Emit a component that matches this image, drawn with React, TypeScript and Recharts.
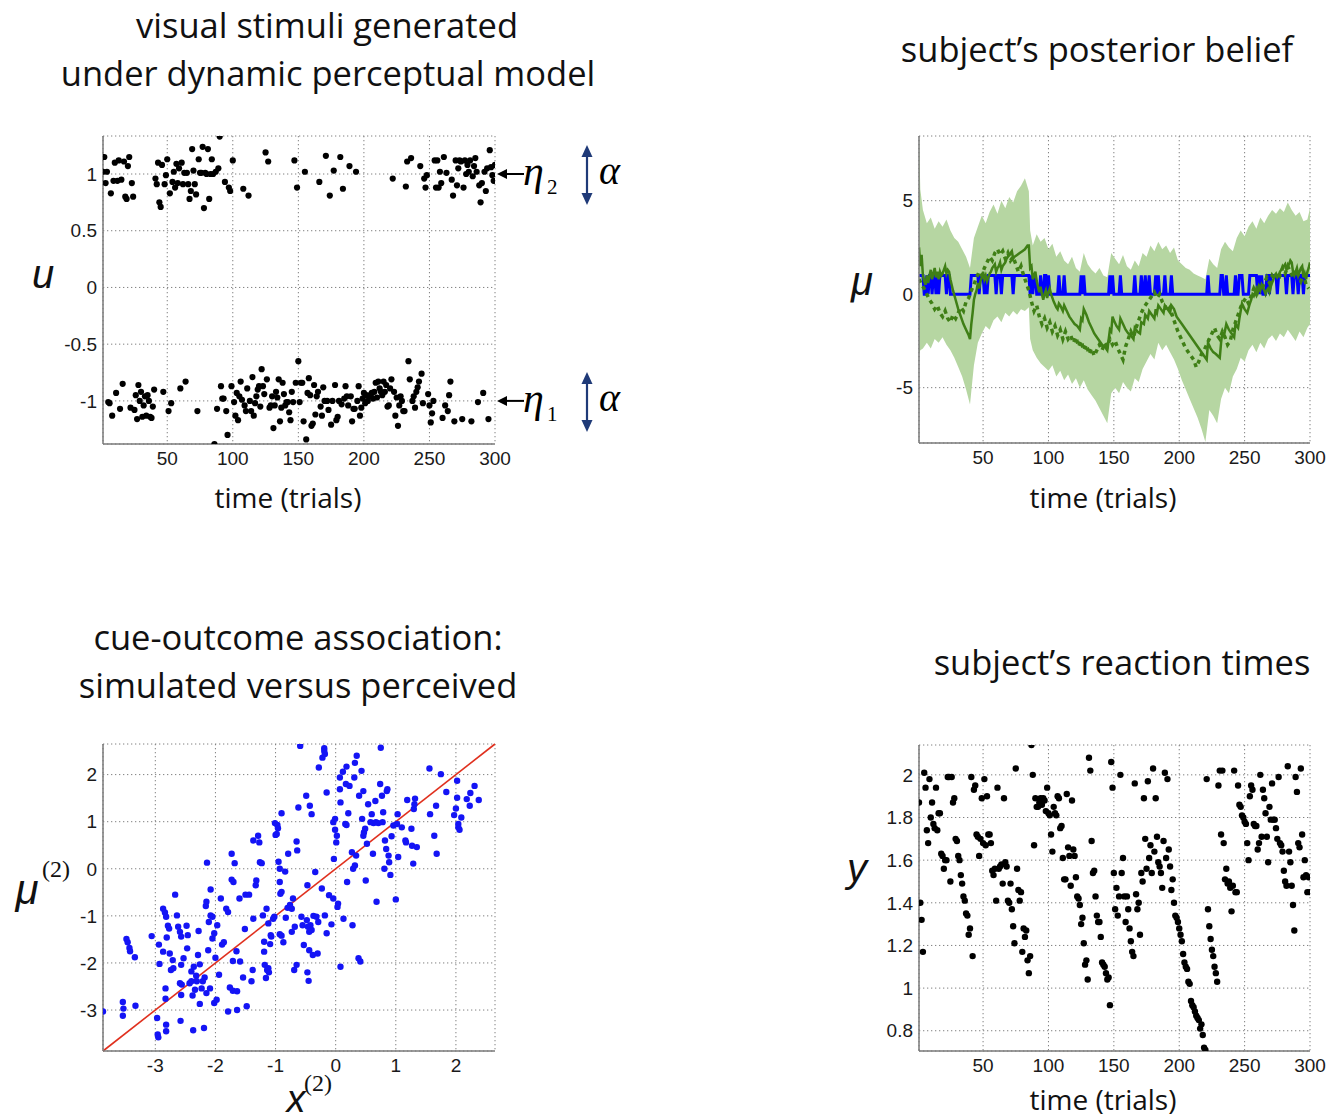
import React from 'react';
import {
  ScatterChart, Scatter, ComposedChart, Line, Area, XAxis, YAxis,
  CartesianGrid, ReferenceDot, ReferenceLine,
} from 'recharts';

// ---------------- data ----------------
const trialTicks = [50, 100, 150, 200, 250, 300];
const trialDomain: [number, number] = [1, 300];

// panel 1: stimuli u per trial (1..300)
const stimulusU = [
  1.02, 1.15, 0.92, 1.02, -1.01, -1.02, 0.83, -1.13, 0.94, 1.10,
  -0.93, 0.94, 1.12, -1.07, 0.95, -0.85, 1.11, 0.80, 0.78, 1.07,
  1.15, -1.06, 0.92, 0.80, -1.08, -0.95, -1.16, -0.86, -1.00, -0.92,
  -1.14, -1.04, -0.96, -1.13, -0.95, -1.00, -1.14, -1.15, -1.05, -0.90,
  0.96, 0.91, 1.10, 0.75, 0.71, 1.08, -0.92, 0.91, 0.99, 1.13,
  -1.09, 0.83, -1.02, 0.93, 1.02, 0.88, 1.09, 0.92, 1.05, -0.89,
  1.10, 0.91, 1.01, -0.83, 1.01, 0.91, 0.78, 0.85, 1.22, 1.03,
  0.91, 0.82, -1.09, 1.13, 1.01, 1.01, 1.24, 0.70, 1.01, 1.00,
  1.22, 0.78, 1.00, 1.13, 1.00, -1.38, 1.02, -1.07, 1.05, 1.33,
  -0.87, -0.98, -0.98, 0.93, -1.09, -1.30, 0.88, 0.85, -0.87, 1.12,
  -1.01, -1.13, -0.93, -1.17, -0.96, -0.83, -0.99, 0.87, -1.04, -1.09,
  -0.89, 0.81, -1.00, -1.09, -0.79, -1.13, -1.02, -0.96, -0.90, -0.87,
  -1.05, -0.72, -0.87, -0.94, 1.19, -0.81, 1.11, -1.06, -1.04, -0.96,
  -1.24, -1.04, -0.92, -0.97, -0.81, -1.18, -1.06, -0.84, -0.94, -1.04,
  -1.01, -1.01, -1.10, -1.17, -0.92, -1.01, 1.12, -0.84, 0.88, -0.65,
  -1.01, -0.84, -0.84, -1.18, 1.02, -1.34, -0.93, -0.80, -0.95, -1.22,
  -1.20, -0.86, -1.12, -0.96, -0.92, 0.93, -1.05, -1.13, -0.88, -1.00,
  1.16, -1.00, -1.08, 0.81, -1.21, -1.00, 1.03, -0.86, -1.17, -1.14,
  -1.00, 1.15, -1.03, 0.87, -0.98, -0.87, -0.96, -1.04, 1.07, -0.96,
  -1.18, -1.07, -1.07, 1.02, -1.00, -0.87, -1.13, -1.06, -0.98, -0.93,
  -1.02, -0.95, -1.00, -0.96, -0.95, -0.93, -0.98, -0.92, -0.84, -0.97,
  -0.83, -0.89, -0.92, -0.95, -0.83, -0.92, -0.86, -1.05, -1.04, -0.89,
  -0.81, 0.96, -0.92, -1.13, -0.97, -1.22, -1.04, -0.96, -1.00, -1.09,
  -1.09, 0.89, 1.11, -0.65, -0.81, 1.14, -1.00, -0.96, -1.06, -0.92,
  -0.88, -0.83, 1.07, -0.76, -1.02, 0.96, 0.88, 0.99, -0.94, -1.04,
  -1.19, -1.11, -1.00, 1.12, 0.88, 1.12, 0.88, 1.02, 0.92, -1.15,
  1.15, -1.04, 1.01, -1.09, -0.95, -0.83, 0.95, 0.81, -1.18, 1.12,
  0.90, 1.05, 1.12, 1.11, -1.16, 0.88, 1.12, 1.00, 1.08, 1.02,
  1.12, -1.18, 0.98, 1.07, 1.14, 1.02, -1.01, 0.90, 0.75, 0.92,
  -0.93, 1.02, 0.85, 1.05, -1.16, 1.21, 1.06, 0.99, 0.94, 1.08,
];
const uTicks = [-1, -0.5, 0, 0.5, 1];
const uDomain: [number, number] = [-1.38, 1.335];

// panel 2: posterior belief
const muTicks = [-5, 0, 5];
const muDomain: [number, number] = [-7.96, 8.46];
// [trial, lower, upper]
const beliefBand: [number, number, number][] = [
  [1, -3.2, 8.46], [2, -3.0, 5.6], [4, -2.9, 4.5], [7, -2.6, 3.8], [10, -2.9, 4.1],
  [13, -2.4, 3.5], [16, -2.6, 3.9], [19, -2.3, 3.6], [22, -2.7, 4.0], [25, -3.0, 3.4],
  [28, -3.4, 3.0], [31, -3.9, 2.8], [34, -4.4, 2.4], [37, -5.1, 2.0], [40, -5.9, 1.4],
  [43, -3.8, 3.0], [46, -2.6, 3.6], [49, -2.1, 4.2], [52, -1.7, 3.8], [55, -1.9, 4.4],
  [58, -1.4, 4.8], [61, -1.2, 4.3], [64, -1.5, 5.0], [67, -1.0, 4.6], [70, -1.2, 5.2],
  [73, -0.9, 4.9], [76, -1.1, 5.5], [79, -0.8, 5.8], [82, -0.9, 6.2], [85, -0.7, 5.5],
  [86, -2.4, 3.4], [88, -3.0, 2.6], [91, -3.4, 3.2], [94, -3.7, 2.8], [97, -3.9, 3.0],
  [100, -4.1, 2.4], [103, -3.8, 2.7], [106, -4.4, 2.0], [109, -4.1, 2.3], [112, -4.6, 1.8],
  [115, -4.3, 1.6], [118, -4.8, 2.0], [121, -4.5, 1.4], [124, -5.0, 1.2], [127, -4.6, 2.2],
  [130, -5.1, 1.6], [133, -5.4, 1.3], [136, -5.7, 1.1], [139, -6.1, 1.4], [142, -6.5, 1.0],
  [145, -6.9, 0.9], [148, -5.3, 2.2], [151, -5.0, 1.9], [154, -5.3, 1.6], [157, -4.7, 2.1],
  [160, -5.0, 1.5], [163, -5.2, 1.3], [166, -4.5, 1.8], [169, -4.7, 1.5], [172, -4.0, 2.2],
  [175, -3.6, 2.0], [178, -3.2, 2.6], [181, -3.5, 2.3], [184, -2.6, 2.8], [187, -3.0, 2.4],
  [190, -2.7, 2.6], [193, -3.1, 2.2], [196, -3.5, 2.5], [199, -4.0, 1.8], [202, -4.6, 1.6],
  [205, -5.1, 1.4], [208, -5.6, 1.3], [211, -6.1, 1.1], [214, -6.6, 1.0], [217, -7.2, 0.9],
  [220, -7.9, 0.8], [223, -6.2, 1.9], [226, -6.5, 1.6], [229, -6.9, 1.4], [232, -5.6, 2.4],
  [235, -5.0, 2.8], [238, -5.3, 2.5], [241, -4.4, 2.3], [244, -4.0, 3.0], [247, -3.4, 3.4],
  [250, -3.6, 3.1], [253, -3.0, 3.6], [256, -2.7, 3.9], [259, -3.1, 3.5], [262, -2.6, 4.1],
  [265, -2.9, 3.8], [268, -2.4, 4.2], [271, -2.2, 4.5], [274, -2.5, 4.3], [277, -2.1, 4.6],
  [280, -2.3, 4.4], [283, -1.9, 4.9], [286, -2.2, 4.5], [289, -2.5, 4.2], [292, -2.0, 4.4],
  [295, -2.3, 3.9], [298, -1.8, 4.0], [300, -1.6, 4.6],
];
// [trial, posterior mean]
const beliefMean: [number, number][] = [
  [1, 2.5], [2, 1.5], [3, 2.1], [4, 1.0], [5, 0.7], [6, 0.5], [7, 1.0], [8, 0.6], [9, 1.0], [10, 1.3],
  [11, 0.8], [12, 1.1], [13, 1.4], [14, 0.9], [15, 1.2], [16, 0.8], [17, 1.2], [18, 1.0], [19, 1.1], [20, 1.3],
  [21, 1.5], [22, 1.1], [23, 1.3], [24, 1.2], [25, 0.8], [27, 0.2], [29, -0.3], [31, -0.8], [33, -1.2], [35, -1.6],
  [37, -1.9], [39, -2.2], [40, -2.4], [41, -1.6], [42, -1.0], [43, -0.3], [44, 0.0], [45, 0.2], [46, 0.6], [47, 0.3],
  [48, 0.7], [49, 0.9], [50, 1.2], [51, 0.8], [52, 1.0], [53, 0.7], [54, 0.9], [55, 1.1], [56, 1.2], [57, 1.4],
  [58, 1.5], [59, 1.6], [60, 1.2], [61, 1.4], [62, 1.5], [63, 1.7], [64, 1.3], [65, 1.5], [66, 1.6], [67, 1.7],
  [68, 1.9], [69, 2.0], [70, 2.1], [71, 2.2], [72, 2.3], [73, 1.9], [74, 2.0], [76, 2.1], [78, 2.2], [80, 2.3],
  [82, 2.4], [84, 2.6], [85, 2.6], [86, 1.4], [87, 1.5], [88, 0.8], [89, 1.0], [90, 1.2], [91, 0.7], [92, 0.4],
  [93, 0.1], [94, 0.4], [95, 0.0], [96, -0.3], [97, 0.0], [98, 0.2], [99, -0.2], [100, 0.1], [101, 0.3], [102, 0.0],
  [104, -0.4], [106, -0.7], [107, -0.8], [108, -0.5], [109, -0.6], [111, -0.9], [112, -0.6], [114, -0.9], [116, -1.2], [118, -1.4],
  [120, -1.6], [122, -1.7], [124, -1.9], [125, -1.3], [126, -1.4], [127, -0.8], [129, -1.1], [131, -1.5], [133, -1.8], [135, -2.1],
  [137, -2.3], [139, -2.5], [141, -2.7], [143, -2.8], [145, -3.0], [147, -1.9], [148, -2.0], [149, -1.2], [150, -1.4], [152, -1.7],
  [154, -1.9], [155, -1.3], [157, -1.6], [159, -1.9], [161, -2.1], [163, -2.2], [165, -2.4], [166, -1.8], [168, -2.0], [170, -2.1],
  [171, -1.5], [173, -1.6], [174, -1.1], [176, -1.3], [177, -0.9], [179, -1.1], [181, -1.3], [182, -0.8], [183, -1.0], [184, -0.6],
  [186, -0.8], [188, -1.0], [189, -0.6], [191, -0.8], [193, -1.0], [194, -0.6], [196, -0.8], [198, -1.2], [202, -1.6], [206, -2.0],
  [210, -2.4], [214, -2.8], [218, -3.2], [221, -3.5], [222, -2.6], [224, -2.9], [226, -3.1], [228, -3.2], [231, -3.4], [232, -2.6],
  [233, -2.0], [234, -2.3], [236, -1.6], [238, -1.9], [240, -2.1], [242, -2.3], [243, -1.6], [245, -1.8], [246, -1.3], [247, -0.9],
  [248, -0.5], [250, -0.8], [252, -1.0], [254, -0.5], [255, -0.3], [256, 0.0], [257, -0.1], [258, 0.1], [259, 0.3], [260, 0.1],
  [261, 0.4], [262, 0.2], [263, 0.5], [265, 0.2], [266, 0.0], [267, 0.2], [268, 0.3], [269, 0.1], [270, 0.4], [271, 0.6],
  [272, 0.8], [273, 1.0], [274, 1.1], [275, 0.9], [276, 1.0], [277, 1.2], [278, 1.3], [279, 1.4], [280, 1.5], [281, 1.6],
  [282, 1.3], [283, 1.5], [284, 1.6], [285, 1.8], [286, 1.7], [287, 1.2], [288, 1.0], [289, 1.2], [290, 1.4], [291, 1.0],
  [292, 1.2], [293, 1.4], [294, 1.5], [295, 0.9], [296, 1.1], [297, 0.8], [298, 1.2], [299, 1.4], [300, 1.7],
];
// [trial, simulated (true) x2]
const trueX2: [number, number][] = [
  [1, 0.8], [3, 0.5], [5, 0.3], [7, 0.0], [9, -0.3], [11, -0.5], [13, -0.8], [15, -0.6], [17, -1.0], [19, -1.2],
  [21, -0.9], [23, -1.3], [25, -1.5], [27, -1.1], [29, -1.3], [31, -1.0], [33, -0.7], [35, -0.9], [37, -0.4], [39, -0.2],
  [41, 0.2], [43, 0.5], [45, 0.9], [47, 1.2], [49, 1.0], [51, 1.4], [53, 1.7], [55, 2.0], [57, 1.8], [59, 2.2],
  [61, 2.4], [63, 2.1], [65, 2.3], [67, 1.9], [69, 2.2], [71, 1.8], [73, 2.0], [75, 1.6], [77, 1.2], [79, 1.5],
  [81, 1.0], [83, 0.6], [85, 0.2], [87, -0.4], [89, -0.9], [91, -0.6], [93, -1.2], [95, -1.6], [97, -1.3], [99, -1.8],
  [101, -1.5], [103, -2.0], [105, -1.7], [107, -2.2], [109, -1.9], [111, -2.4], [113, -2.0], [115, -2.4], [117, -2.2], [119, -2.6],
  [121, -2.3], [123, -2.8], [125, -2.5], [127, -3.0], [129, -2.7], [131, -3.2], [133, -2.9], [135, -3.3], [137, -3.0], [139, -2.7],
  [141, -3.0], [143, -2.6], [145, -2.8], [147, -2.4], [149, -2.7], [151, -2.5], [153, -2.9], [155, -3.2], [157, -3.5], [159, -2.8],
  [161, -2.4], [163, -2.0], [165, -2.3], [167, -1.8], [169, -1.4], [171, -1.0], [173, -0.7], [175, -0.5], [177, -0.3], [179, -0.1],
  [181, 0.1], [183, -0.2], [185, 0.0], [187, -0.4], [189, -0.6], [191, -0.9], [193, -0.7], [195, -1.2], [197, -1.6], [199, -2.0],
  [201, -2.3], [203, -2.6], [205, -2.9], [207, -3.1], [209, -3.3], [211, -3.5], [213, -3.9], [215, -3.6], [217, -3.2], [219, -3.0],
  [221, -2.7], [223, -2.4], [225, -2.1], [227, -1.8], [229, -2.2], [231, -2.4], [233, -2.0], [235, -2.3], [237, -2.7], [239, -2.5],
  [241, -1.9], [243, -1.5], [245, -1.1], [247, -0.7], [249, -0.4], [251, -0.2], [253, -0.5], [255, -0.1], [257, 0.3], [259, 0.0],
  [261, 0.4], [263, 0.2], [265, 0.6], [267, 0.9], [269, 0.6], [271, 1.0], [273, 0.8], [275, 1.2], [277, 1.0], [279, 1.4],
  [281, 1.1], [283, 1.5], [285, 1.2], [287, 0.9], [289, 1.3], [291, 1.0], [293, 0.7], [295, 1.1], [297, 0.5], [299, 0.3],
];

// panel 3: [simulated x2, perceived mu2]
const assocTicks = [-3, -2, -1, 0, 1, 2];
const assocDomain: [number, number] = [-3.87, 2.65];
const assocPoints: [number, number][] = [
  [-3.87, -3.03], [-3.54, -2.83], [-3.53, -2.97], [-3.54, -3.12], [-3.33, -2.91], [-3.48, -1.49], [-3.46, -1.56], [-3.43, -1.68],
  [-3.42, -1.75], [-3.34, -1.88], [-3.06, -1.43], [-2.97, -3.17], [-2.96, -3.52], [-2.95, -3.58], [-2.94, -1.61], [-2.93, -2.02],
  [-2.87, -0.85], [-2.84, -0.93], [-2.82, -1.02], [-2.83, -2.54], [-2.83, -2.76], [-2.87, -1.76], [-2.82, -3.31], [-2.82, -3.45],
  [-2.79, -1.21], [-2.77, -1.27], [-2.81, -1.46], [-2.76, -1.80], [-2.74, -2.15], [-2.71, -1.94], [-2.70, -2.11], [-2.67, -0.55],
  [-2.64, -0.99], [-2.62, -1.23], [-2.59, -1.34], [-2.57, -1.44], [-2.59, -2.43], [-2.56, -2.46], [-2.58, -3.23], [-2.57, -2.04],
  [-2.57, -2.68], [-2.53, -1.90], [-2.48, -1.21], [-2.47, -1.69], [-2.46, -1.41], [-2.43, -2.43], [-2.40, -2.18], [-2.40, -2.39],
  [-2.38, -2.69], [-2.37, -3.43], [-2.36, -2.08], [-2.34, -2.57], [-2.32, -2.27], [-2.31, -2.39], [-2.29, -1.83], [-2.28, -1.32],
  [-2.26, -2.87], [-2.26, -2.03], [-2.23, -2.54], [-2.21, -2.39], [-2.19, -3.38], [-2.18, -2.31], [-2.16, -0.79], [-2.15, -0.70],
  [-2.15, -2.64], [-2.14, 0.13], [-2.12, -1.73], [-2.11, -1.13], [-2.09, -2.54], [-2.08, -0.44], [-2.08, -0.99], [-2.05, -1.02],
  [-2.05, -1.48], [-2.02, -1.37], [-2.02, -2.85], [-1.98, -2.78], [-2.00, -1.89], [-1.97, -1.20], [-1.94, -2.25], [-1.91, -0.63],
  [-1.89, -1.61], [-1.86, -1.56], [-1.82, -0.85], [-1.79, -0.92], [-1.79, -3.03], [-1.76, -2.52], [-1.73, 0.32], [-1.73, -0.23],
  [-1.71, -1.96], [-1.71, -2.59], [-1.70, -0.28], [-1.68, 0.12], [-1.65, -1.75], [-1.64, -2.60], [-1.64, -3.00], [-1.60, -0.63],
  [-1.59, -1.97], [-1.54, -2.31], [-1.51, -1.28], [-1.50, -0.55], [-1.48, -2.92], [-1.44, -0.55], [-1.40, -2.39], [-1.38, -2.15],
  [-1.37, 0.60], [-1.37, -1.06], [-1.33, -0.35], [-1.32, -0.25], [-1.29, 0.70], [-1.27, 0.56], [-1.26, 0.14], [-1.23, 0.12],
  [-1.21, -0.99], [-1.19, -1.55], [-1.19, -1.76], [-1.18, -2.04], [-1.16, -2.32], [-1.15, -0.85], [-1.14, -2.15], [-1.12, -2.11],
  [-1.12, -1.16], [-1.11, -2.20], [-1.09, -1.60], [-1.08, -1.41], [-1.07, -1.44], [-1.04, -1.06], [-1.02, -1.02], [-1.01, 0.97],
  [-1.00, 0.72], [-0.98, 0.74], [-0.97, 0.93], [-0.96, 0.86], [-0.95, 0.15], [-0.93, 0.00], [-0.93, -1.39], [-0.90, -1.42],
  [-0.93, -0.28], [-0.92, -0.53], [-0.90, -0.49], [-0.90, 1.18], [-0.87, -1.56], [-0.84, -0.06], [-0.83, -1.04], [-0.80, -0.83],
  [-0.79, 0.32], [-0.76, -0.77], [-0.73, -0.85], [-0.73, -1.34], [-0.71, -0.63], [-0.69, -2.15], [-0.68, -1.23], [-0.65, 0.58],
  [-0.65, -2.04], [-0.64, 0.39], [-0.62, 1.30], [-0.47, -2.20], [-0.45, -2.38], [-0.59, 2.61], [-0.57, -1.02], [-0.55, -1.20],
  [-0.53, -1.62], [-0.49, 1.55], [-0.48, -1.09], [-0.47, -0.35], [-0.46, -1.23], [-0.44, -1.34], [-0.44, -1.73], [-0.43, 1.34],
  [-0.42, -1.20], [-0.40, -1.30], [-0.40, 1.16], [-0.38, -1.83], [-0.37, -1.00], [-0.34, -0.07], [-0.32, -1.02], [-0.29, -1.13],
  [-0.30, -1.80], [-0.28, 2.15], [-0.23, -0.42], [-0.22, 2.36], [-0.19, 2.50], [-0.19, 2.56], [-0.18, 2.44], [-0.18, -0.99],
  [-0.15, 1.62], [-0.15, -1.37], [-0.11, -0.56], [-0.07, -1.18], [-0.04, 0.99], [-0.01, 0.83], [-0.04, -0.63], [-0.03, 0.21],
  [-0.01, 1.06], [0.01, 0.56], [0.02, 0.70], [0.03, -0.81], [0.04, -0.74], [0.07, 1.94], [0.07, 1.69], [0.08, 1.41],
  [0.08, -2.08], [0.12, 2.06], [0.13, -1.06], [0.16, 0.95], [0.18, 0.93], [0.17, 1.80], [0.18, 2.17], [0.19, -0.28],
  [0.21, 1.18], [0.23, 1.76], [0.27, 0.35], [0.28, -1.20], [0.29, 0.00], [0.31, 1.94], [0.32, 2.25], [0.32, 0.07],
  [0.34, 0.28], [0.35, 2.40], [0.38, -1.90], [0.39, 1.55], [0.41, -1.97], [0.43, 2.08], [0.44, 1.06], [0.46, 1.65],
  [0.46, 0.70], [0.47, 0.77], [0.49, 0.85], [0.50, -0.25], [0.52, 0.53], [0.54, 1.37], [0.58, 0.99], [0.60, 1.16],
  [0.62, 0.32], [0.63, 0.97], [0.66, 1.44], [0.67, 0.99], [0.68, -0.70], [0.71, 0.97], [0.74, 1.80], [0.75, 2.57],
  [0.77, 1.55], [0.78, 0.99], [0.79, 1.20], [0.81, 0.00], [0.82, 0.60], [0.84, 0.42], [0.85, 1.65], [0.86, 1.69],
  [0.88, 0.28], [0.89, 0.14], [0.91, -0.13], [0.93, 0.69], [0.96, 0.92], [1.00, -0.65], [1.02, 0.95], [1.03, 1.16],
  [1.04, 0.25], [1.10, 0.88], [1.16, 0.60], [1.17, 0.56], [1.19, 1.46], [1.26, 0.85], [1.27, 0.49], [1.29, 0.11],
  [1.30, 1.27], [1.31, 1.37], [1.32, 1.49], [1.35, 0.46], [1.56, 2.13], [1.57, 1.16], [1.64, 0.70], [1.67, 1.34],
  [1.68, 0.32], [1.75, 2.01], [1.84, 1.63], [1.97, 1.14], [2.00, 1.28], [2.02, 1.87], [2.02, 1.51], [2.04, 0.95],
  [2.04, 0.88], [2.06, 0.83], [2.09, 1.09], [2.18, 1.48], [2.23, 1.34], [2.24, 1.61], [2.31, 1.76], [2.38, 1.46],
];

// panel 4: reaction times per trial (1..300)
const reactionTimes = [
  1.87, 1.40, 1.32, 1.17, 2.01, 1.94, 1.74, 1.68, 1.98, 1.80,
  1.87, 1.77, 1.75, 1.94, 1.74, 1.82, 1.82, 1.63, 1.62, 1.56,
  1.60, 1.60, 1.99, 1.99, 1.50, 1.99, 1.87, 1.89, 1.70, 1.69,
  1.62, 1.60, 1.53, 1.49, 1.43, 1.41, 1.35, 1.34, 1.25, 1.28,
  1.99, 1.15, 1.93, 1.95, 1.72, 1.71, 1.62, 1.70, 1.89, 1.68,
  1.98, 1.67, 1.90, 1.72, 1.72, 1.68, 1.55, 1.53, 1.56, 1.41,
  1.94, 1.56, 1.57, 1.58, 1.49, 1.89, 1.59, 1.57, 1.41, 1.40,
  1.49, 1.37, 1.29, 1.21, 2.03, 1.56, 1.46, 1.41, 1.45, 1.17,
  1.28, 1.24, 1.27, 1.13, 1.07, 1.15, 2.14, 2.00, 1.67, 1.89,
  1.85, 1.85, 1.87, 1.89, 1.86, 1.89, 1.88, 1.83, 1.94, 1.82,
  1.81, 1.72, 1.64, 1.85, 1.82, 1.81, 1.90, 1.89, 1.75, 1.76,
  1.61, 1.51, 1.51, 1.91, 1.66, 1.62, 1.48, 1.88, 1.65, 1.62,
  1.52, 1.43, 1.42, 1.39, 1.30, 1.33, 1.21, 1.11, 1.13, 1.04,
  2.08, 2.02, 1.69, 1.54, 1.55, 1.43, 1.34, 1.31, 1.31, 1.24,
  1.12, 1.11, 1.10, 1.07, 1.04, 1.05, 0.92, 2.06, 1.94, 1.54,
  1.37, 1.47, 1.34, 1.43, 2.00, 1.54, 1.61, 1.43, 1.31, 1.43,
  1.37, 1.28, 1.22, 1.17, 1.15, 1.96, 1.44, 1.37, 1.40, 1.25,
  1.54, 1.50, 1.89, 1.70, 1.56, 1.97, 1.61, 1.67, 1.54, 2.03,
  1.64, 1.89, 1.71, 1.59, 1.57, 1.54, 1.47, 1.69, 2.01, 1.61,
  1.98, 1.65, 1.57, 1.46, 1.51, 1.40, 1.34, 1.33, 1.31, 1.28, 1.25,
  1.22, 1.16, 1.12, 1.10, 1.09, 1.03, 1.02, 0.94, 0.92, 0.91,
  0.89, 0.87, 0.86, 0.85, 0.81, 0.83, 0.78, 0.72, 0.71, 1.98, 1.37,
  1.29, 1.23, 1.18, 1.15, 1.10, 1.07, 1.03, 1.95, 2.02, 1.72,
  2.02, 1.68, 1.51, 1.56, 1.49, 1.50, 1.47, 1.36, 1.48, 2.02,
  1.45, 1.45, 1.95, 1.86, 1.85, 1.81, 1.80, 1.78, 1.77, 1.68, 1.60,
  1.90, 1.95, 1.93, 1.77, 1.76, 1.76, 1.65, 1.68, 2.00, 1.71,
  1.93, 1.89, 1.82, 1.71, 1.59, 1.85, 1.79, 1.96, 1.79, 1.79,
  1.75, 1.70, 1.99, 1.68, 1.67, 1.64, 1.55, 1.50, 1.48, 2.04,
  1.64, 1.59, 1.48, 1.39, 1.27, 1.99, 1.92, 1.68, 1.66, 2.03,
  1.72, 1.52, 1.60, 1.53, 1.45, 1.52, 1.45,
];
const rtTicks = [0.8, 1, 1.2, 1.4, 1.6, 1.8, 2];
const rtDomain: [number, number] = [0.705, 2.14];

// ---------------- styles ----------------
const TITLE_FONT = '"Open Sans", "Noto Sans", sans-serif';
const TICK_FONT = '"Liberation Sans", Arial, sans-serif';
const SERIF = '"Liberation Serif", "Times New Roman", serif';
const tickStyle = { fontSize: 19, fill: '#1a1a1a', fontFamily: TICK_FONT };
const axisLineStyle = { stroke: '#7a7a7a', strokeWidth: 1.5 };
const gridProps = { stroke: '#808080', strokeDasharray: '1.3 2.7', strokeWidth: 1 };
const NAVY = '#1f3a78';
const GREEN = '#3f7f16';

const dotShape = (color: string, r: number) => (p: any) =>
  <circle cx={p.cx} cy={p.cy} r={r} fill={color} />;

const EtaMark = ({ cx, cy, sub }: { cx: number; cy: number; sub: string }) => (
  <g>
    <line x1={cx + 9} y1={cy} x2={cx + 29} y2={cy} stroke="#000" strokeWidth={2} />
    <path d={`M${cx + 2},${cy} L${cx + 12},${cy - 5} L${cx + 12},${cy + 5} Z`} fill="#000" />
    <text x={cx + 28} y={cy + 11} fontFamily={SERIF} fontStyle="italic" fontSize={42} fill="#000">η</text>
    <text x={cx + 52} y={cy + 20} fontFamily={SERIF} fontSize={21} fill="#000">{sub}</text>
    <line x1={cx + 92} y1={cy - 20} x2={cx + 92} y2={cy + 22} stroke={NAVY} strokeWidth={2.2} />
    <path d={`M${cx + 92},${cy - 29} L${cx + 86.5},${cy - 17} L${cx + 97.5},${cy - 17} Z`} fill={NAVY} />
    <path d={`M${cx + 92},${cy + 31} L${cx + 86.5},${cy + 19} L${cx + 97.5},${cy + 19} Z`} fill={NAVY} />
    <text x={cx + 104} y={cy + 10} fontFamily={SERIF} fontStyle="italic" fontSize={40} fill="#000">α</text>
  </g>
);

const Txt = ({ x, y, size, children, italic, font }: any) => (
  <div style={{
    position: 'absolute', left: x, top: y, transform: 'translate(-50%, -50%)',
    fontSize: size, fontFamily: font || TITLE_FONT, fontStyle: italic ? 'italic' : 'normal',
    whiteSpace: 'nowrap', lineHeight: 1, color: '#111',
  }}>{children}</div>
);

const Box = ({ left, top, children }: any) => (
  <div style={{ position: 'absolute', left, top }}>{children}</div>
);

function StimuliPanel() {
  const data = stimulusU.map((u, i) => ({ t: i + 1, u }));
  return (
    <ScatterChart width={660} height={364} margin={{ top: 16, right: 165, bottom: 0, left: 0 }}>
      <CartesianGrid {...gridProps} />
      <XAxis type="number" dataKey="t" domain={trialDomain} ticks={trialTicks} interval={0} allowDataOverflow
        height={40} tickLine={false} axisLine={axisLineStyle} tick={tickStyle} tickSize={6} tickMargin={2} />
      <YAxis type="number" dataKey="u" domain={uDomain} ticks={uTicks} interval={0} allowDataOverflow
        width={103} tickLine={false} axisLine={axisLineStyle} tick={tickStyle} tickSize={4} tickMargin={2} />
      <Scatter data={data} shape={dotShape('#000', 3.1)} isAnimationActive={false} />
      <ReferenceDot x={300} y={1} ifOverflow="visible" shape={(p: any) => <EtaMark cx={p.cx} cy={p.cy} sub="2" />} />
      <ReferenceDot x={300} y={-1} ifOverflow="visible" shape={(p: any) => <EtaMark cx={p.cx} cy={p.cy} sub="1" />} />
    </ScatterChart>
  );
}

function BeliefPanel() {
  const band = beliefBand.map(([t, lo, hi]) => ({ t, range: [lo, hi] }));
  const mean = beliefMean.map(([t, v]) => ({ t, v }));
  const truth = trueX2.map(([t, v]) => ({ t, v }));
  const state = stimulusU.map((u, i) => ({ t: i + 1, s: u > 0 ? 1 : 0 }));
  return (
    <ComposedChart width={490} height={363} margin={{ top: 16, right: 20, bottom: 0, left: 0 }}>
      <CartesianGrid {...gridProps} />
      <XAxis type="number" dataKey="t" domain={trialDomain} ticks={trialTicks} interval={0} allowDataOverflow
        height={40} tickLine={false} axisLine={axisLineStyle} tick={tickStyle} tickSize={6} tickMargin={2} />
      <YAxis type="number" domain={muDomain} ticks={muTicks} interval={0} allowDataOverflow
        width={79} tickLine={false} axisLine={axisLineStyle} tick={tickStyle} tickSize={4} tickMargin={2} />
      <Area data={band} dataKey="range" type="linear" stroke="none" fill="#b6d6a2" fillOpacity={1} isAnimationActive={false} />
      <Line data={state} dataKey="s" type="linear" stroke="#0000ff" strokeWidth={3} dot={false} activeDot={false} isAnimationActive={false} />
      <Line data={mean} dataKey="v" type="linear" stroke={GREEN} strokeWidth={2.5} dot={false} activeDot={false} isAnimationActive={false} />
      <Line data={truth} dataKey="v" type="linear" stroke={GREEN} strokeWidth={3.5} strokeDasharray="4 4" dot={false} activeDot={false} isAnimationActive={false} />
    </ComposedChart>
  );
}

function AssociationPanel() {
  const data = assocPoints.map(([x, y]) => ({ x, y }));
  return (
    <ScatterChart width={520} height={363} margin={{ top: 16, right: 25, bottom: 0, left: 0 }}>
      <CartesianGrid {...gridProps} />
      <XAxis type="number" dataKey="x" domain={assocDomain} ticks={assocTicks} interval={0} allowDataOverflow
        height={40} tickLine={false} axisLine={axisLineStyle} tick={tickStyle} tickSize={6} tickMargin={2} />
      <YAxis type="number" dataKey="y" domain={assocDomain} ticks={assocTicks} interval={0} allowDataOverflow
        width={103} tickLine={false} axisLine={axisLineStyle} tick={tickStyle} tickSize={4} tickMargin={2} />
      <Scatter data={data} shape={dotShape('#1414f5', 3.2)} isAnimationActive={false} />
      <ReferenceLine segment={[{ x: assocDomain[0], y: assocDomain[0] }, { x: assocDomain[1], y: assocDomain[1] }]}
        stroke="#e0301e" strokeWidth={1.6} ifOverflow="visible" />
    </ScatterChart>
  );
}

function ReactionPanel() {
  const data = reactionTimes.map((y, i) => ({ t: i + 1, y }));
  return (
    <ScatterChart width={490} height={362} margin={{ top: 16, right: 20, bottom: 0, left: 0 }}>
      <CartesianGrid {...gridProps} />
      <XAxis type="number" dataKey="t" domain={trialDomain} ticks={trialTicks} interval={0} allowDataOverflow
        height={40} tickLine={false} axisLine={axisLineStyle} tick={tickStyle} tickSize={6} tickMargin={2} />
      <YAxis type="number" dataKey="y" domain={rtDomain} ticks={rtTicks} interval={0} allowDataOverflow
        width={79} tickLine={false} axisLine={axisLineStyle} tick={tickStyle} tickSize={4} tickMargin={2} />
      <Scatter data={data} shape={dotShape('#000', 3.2)} isAnimationActive={false} />
    </ScatterChart>
  );
}

export default function App() {
  return (
    <div style={{ position: 'relative', width: 1336, height: 1119, background: '#fff', overflow: 'hidden' }}>
      <style>{'body{margin:0;background:#fff}'}</style>

      <Txt x={327} y={25} size={34.5}>visual stimuli generated</Txt>
      <Txt x={328} y={73} size={34.5}>under dynamic perceptual model</Txt>
      <Txt x={1097} y={49} size={34.5}>subject’s posterior belief</Txt>
      <Txt x={298} y={637} size={34.5}>cue-outcome association:</Txt>
      <Txt x={298} y={685} size={34.5}>simulated versus perceived</Txt>
      <Txt x={1122} y={662} size={34.5}>subject’s reaction times</Txt>

      <Box left={0} top={120}><StimuliPanel /></Box>
      <Box left={840} top={120}><BeliefPanel /></Box>
      <Box left={0} top={728}><AssociationPanel /></Box>
      <Box left={840} top={729}><ReactionPanel /></Box>

      <Txt x={288} y={497} size={28}>time (trials)</Txt>
      <Txt x={1103} y={497} size={28}>time (trials)</Txt>
      <Txt x={1103} y={1099} size={28}>time (trials)</Txt>

      <Txt x={43} y={274} size={40} italic font={TICK_FONT}>u</Txt>
      <Txt x={862} y={281} size={40} italic font={TICK_FONT}>μ</Txt>
      <Txt x={857} y={868} size={40} italic font={TICK_FONT}>y</Txt>
      <Txt x={27} y={890} size={42} italic font={TICK_FONT}>μ</Txt>
      <Txt x={56} y={869} size={24} font={SERIF}>(2)</Txt>
      <Txt x={296} y={1099} size={38} italic font={TICK_FONT}>x</Txt>
      <Txt x={318} y={1083} size={24} font={SERIF}>(2)</Txt>
    </div>
  );
}
